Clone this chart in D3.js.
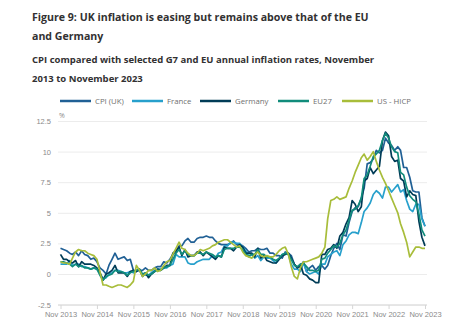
<!DOCTYPE html>
<html>
<head>
<meta charset="utf-8">
<script src="https://cdn.jsdelivr.net/npm/d3@7"></script>
<style>
  body { margin: 0; background: #fff; }
  svg { font-family: "Open Sans", sans-serif; }
</style>
</head>
<body>
<div class="graph"></div>
<script>
// monthly values, Nov 2013 to Nov 2023
let uk = [2.1, 2.0,
  1.9, 1.7, 1.6, 1.8, 1.5, 1.9, 1.6, 1.5, 1.2, 1.3, 1.0, 0.5,
  0.3, 0.0, 0.7, 1.2, 1.7, 1.2, 1.3, 1.4, 1.1, 1.2, 0.3, 0.2,
  0.3, 0.3, 0.5, 0.3, 0.3, 0.5, 0.6, 0.6, 1.0, 0.9, 1.2, 1.6,
  1.8, 2.3, 2.3, 2.7, 2.9, 2.6, 2.6, 2.9, 3.0, 3.0, 3.1, 3.0,
  3.0, 2.7, 2.5, 2.4, 2.4, 2.4, 2.5, 2.7, 2.4, 2.4, 2.3, 2.1,
  1.8, 1.9, 1.9, 2.1, 2.0, 2.0, 2.1, 1.7, 1.7, 1.5, 1.5, 1.3,
  1.8, 1.7, 1.5, 0.8, 0.5, 0.6, 1.0, 0.2, 0.5, 0.7, 0.3, 0.6,
  0.7, 0.4, 0.7, 1.5, 2.1, 2.5, 2.0, 3.2, 3.1, 4.2, 5.1, 5.4,
  5.5, 6.2, 7.0, 9.0, 9.1, 9.4, 10.1, 9.9, 10.1, 11.1, 10.7, 10.5,
  10.1, 10.4, 10.1, 8.7, 8.7, 7.9, 6.8, 6.7, 6.7, 4.6, 3.9];

let france = [0.8, 0.8,
  0.8, 1.1, 0.7, 0.8, 0.8, 0.6, 0.6, 0.5, 0.4, 0.5, 0.4, 0.1,
  -0.4, -0.3, 0.0, 0.1, 0.3, 0.3, 0.2, 0.1, 0.1, 0.2, 0.1, 0.3,
  0.3, -0.1, -0.1, -0.1, 0.1, 0.3, 0.4, 0.4, 0.5, 0.5, 0.7, 0.8,
  1.6, 1.4, 1.4, 1.4, 0.9, 0.8, 0.8, 1.0, 1.1, 1.2, 1.2, 1.2,
  1.5, 1.3, 1.7, 1.8, 2.3, 2.3, 2.6, 2.6, 2.5, 2.5, 2.2, 1.9,
  1.4, 1.6, 1.3, 1.5, 1.1, 1.4, 1.3, 1.3, 1.1, 0.9, 1.2, 1.6,
  1.7, 1.6, 0.8, 0.4, 0.4, 0.2, 0.9, 0.2, 0.0, 0.1, 0.2, 0.0,
  0.8, 0.8, 1.4, 1.6, 1.8, 1.9, 1.5, 2.4, 2.7, 3.2, 3.4, 3.4,
  3.3, 4.2, 5.1, 5.4, 5.8, 6.5, 6.8, 6.6, 6.2, 7.1, 7.1, 6.7,
  7.0, 7.3, 6.7, 6.9, 6.0, 5.3, 5.1, 5.7, 5.7, 4.5, 3.9];

let germany = [1.6, 1.2,
  1.2, 1.0, 0.9, 1.1, 0.6, 1.0, 0.8, 0.8, 0.8, 0.7, 0.5, 0.1,
  -0.5, 0.0, 0.1, 0.3, 0.7, 0.1, 0.1, 0.1, -0.2, 0.2, 0.3, 0.2,
  0.4, -0.2, 0.1, -0.3, 0.0, 0.2, 0.4, 0.3, 0.5, 0.7, 0.7, 1.7,
  1.9, 2.2, 1.5, 2.0, 1.4, 1.5, 1.5, 1.8, 1.8, 1.5, 1.8, 1.6,
  1.4, 1.2, 1.5, 1.4, 2.2, 2.1, 2.1, 1.9, 2.2, 2.4, 2.2, 1.7,
  1.7, 1.7, 1.4, 2.1, 1.3, 1.5, 1.1, 1.0, 0.9, 0.9, 1.2, 1.5,
  1.6, 1.7, 1.3, 0.8, 0.5, 0.8, 0.0, -0.1, -0.4, -0.5, -0.7, -0.7,
  1.6, 1.6, 2.0, 2.1, 2.4, 2.1, 3.1, 3.4, 4.1, 4.6, 6.0, 5.7,
  5.1, 5.5, 7.6, 7.8, 8.7, 8.2, 8.5, 8.8, 10.9, 11.6, 11.3, 9.6,
  9.2, 9.3, 7.8, 7.6, 6.3, 6.8, 6.5, 6.4, 4.3, 3.0, 2.3];

let eu27 = [1.0, 1.0,
  0.9, 0.8, 0.6, 0.8, 0.6, 0.7, 0.5, 0.5, 0.4, 0.5, 0.4, -0.1,
  -0.5, -0.2, -0.1, 0.0, 0.3, 0.2, 0.2, 0.1, -0.1, 0.1, 0.2, 0.3,
  0.4, 0.0, 0.1, -0.1, 0.0, 0.2, 0.3, 0.3, 0.5, 0.6, 0.7, 1.2,
  1.7, 2.0, 1.6, 1.9, 1.6, 1.5, 1.5, 1.7, 1.7, 1.6, 1.8, 1.7,
  1.6, 1.4, 1.5, 1.4, 2.0, 2.1, 2.1, 2.1, 2.2, 2.2, 2.0, 1.6,
  1.5, 1.6, 1.6, 2.0, 1.6, 1.6, 1.4, 1.4, 1.2, 1.1, 1.3, 1.6,
  1.7, 1.6, 1.2, 0.7, 0.6, 0.8, 0.9, 0.6, 0.3, 0.3, 0.2, 0.3,
  1.2, 1.3, 1.7, 2.0, 2.3, 2.2, 2.5, 3.2, 3.6, 4.4, 5.2, 5.3,
  5.6, 6.2, 7.8, 8.1, 8.8, 9.6, 9.8, 10.1, 10.9, 11.5, 11.1, 10.4,
  10.0, 9.9, 8.3, 8.1, 7.1, 6.4, 6.1, 5.9, 4.9, 3.6, 3.1];

let usHicp = [1.0, 0.9,
  0.9, 0.8, 1.3, 1.8, 2.0, 1.9, 1.9, 1.7, 1.6, 1.5, 1.2, 0.2,
  -0.9, -0.9, -1.0, -1.1, -1.0, -0.9, -0.9, -1.0, -1.1, -0.9, -0.6, 0.7,
  0.3, -0.2, 0.0, 0.3, 0.3, 0.5, 0.2, 0.3, 0.7, 1.0, 1.1, 1.6,
  2.1, 2.6, 2.1, 2.0, 1.7, 1.5, 1.5, 1.7, 2.0, 1.9, 2.0, 2.1,
  2.3, 2.4, 2.6, 2.7, 2.8, 2.8, 2.6, 2.4, 2.2, 2.3, 1.8, 1.5,
  1.4, 1.3, 1.6, 1.8, 1.5, 1.4, 1.5, 1.4, 1.4, 1.6, 1.9, 2.1,
  2.2, 1.6, 0.6, -0.2, -0.4, 0.5, 1.0, 1.0, 1.1, 1.2, 1.3, 1.4,
  1.7, 2.2, 4.5, 6.0, 6.1, 6.3, 6.1, 6.2, 6.3, 7.0, 7.6, 8.3,
  8.9, 9.5, 9.8, 9.3, 9.6, 10.0, 9.2, 8.5, 7.9, 7.4, 6.8, 6.2,
  5.6, 5.0, 4.1, 3.4, 2.6, 1.4, 1.8, 2.2, 2.2, 2.1, 2.1];

let seriesNames = ["CPI (UK)", "France", "Germany", "EU27", "US - HICP"];
let seriesColors = ["#206095", "#27a0cc", "#003c57", "#118c7b", "#a8bd3a"];
let yTicks = [-2.5, 0, 2.5, 5, 7.5, 10, 12.5];
let xTickLabels = ["Nov 2013", "Nov 2014", "Nov 2015", "Nov 2016", "Nov 2017",
  "Nov 2018", "Nov 2019", "Nov 2020", "Nov 2021", "Nov 2022", "Nov 2023"];

let w = 465;
let h = 323;
let allSeries = [uk, france, germany, eu27, usHicp];
let months = d3.timeMonth.range(new Date(2013, 10, 1), new Date(2023, 11, 1));
let xTickDates = xTickLabels.map(function (s) {
  return new Date(+s.slice(4), 10, 1);
});

let svg = d3.select(".graph").append("svg").attr("width", w).attr("height", h);

// titles
let titleColor = "#323132";
[["Figure 9: UK inflation is easing but remains above that of the EU", 21],
 ["and Germany", 40]].forEach(function (t) {
  svg.append("text").attr("x", 32).attr("y", t[1]).text(t[0])
    .attr("font-size", 10.6).attr("font-weight", 700).attr("fill", titleColor);
});
[["CPI compared with selected G7 and EU annual inflation rates, November", 63],
 ["2013 to November 2023", 82]].forEach(function (t) {
  svg.append("text").attr("x", 32).attr("y", t[1]).text(t[0])
    .attr("font-size", 9.5).attr("font-weight", 700).attr("fill", titleColor);
});

let xScale = d3.scaleTime()
  .domain([months[0], months[months.length - 1]])
  .range([60.5, 425]);
let yScale = d3.scaleLinear().domain([-2.5, 12.5]).range([304.6, 121]);

// gridlines + y labels
let yAxis = d3.axisLeft(yScale).tickValues(yTicks).tickSize(-369)
  .tickFormat(function (d) { return String(d); });
let gy = svg.append("g").attr("transform", "translate(58, 0)").call(yAxis);
gy.select(".domain").remove();
gy.selectAll(".tick line").attr("stroke", "#ececec").attr("x1", 0);
gy.selectAll(".tick text").attr("x", -7).attr("fill", "#8a8a8a")
  .attr("font-size", 7.5);
svg.append("text").attr("x", 59).attr("y", 118).text("%")
  .attr("font-size", 7).attr("fill", "#8a8a8a");

// x axis
let xAxis = d3.axisBottom(xScale).tickValues(xTickDates).tickSize(4)
  .tickFormat(function (d, i) { return xTickLabels[i]; });
let gx = svg.append("g").attr("transform", "translate(0, 305)").call(xAxis);
gx.select(".domain").attr("d", "M58,0H427").attr("stroke", "#d6d6d6");
gx.selectAll(".tick line").attr("stroke", "#d6d6d6");
gx.selectAll(".tick text").attr("fill", "#8a8a8a").attr("font-size", 7.5)
  .attr("dy", "0.6em");

// lines
let line = d3.line()
  .x(function (d, i) { return xScale(months[i]); })
  .y(function (d) { return yScale(d); });
allSeries.forEach(function (s, k) {
  svg.append("path").datum(s).attr("d", line)
    .attr("fill", "none").attr("stroke", seriesColors[k])
    .attr("stroke-width", 1.7).attr("stroke-linejoin", "round");
});

// legend
let legendX = [60, 132, 200, 278, 342];
seriesNames.forEach(function (name, k) {
  let g = svg.append("g").attr("transform", "translate(" + legendX[k] + ", 101)");
  g.append("line").attr("x1", 0).attr("x2", 31)
    .attr("stroke", seriesColors[k]).attr("stroke-width", 2.5);
  g.append("text").attr("x", 35).attr("y", 3).text(name)
    .attr("font-size", 7.8).attr("fill", "#707070");
});
</script>
</body>
</html>
